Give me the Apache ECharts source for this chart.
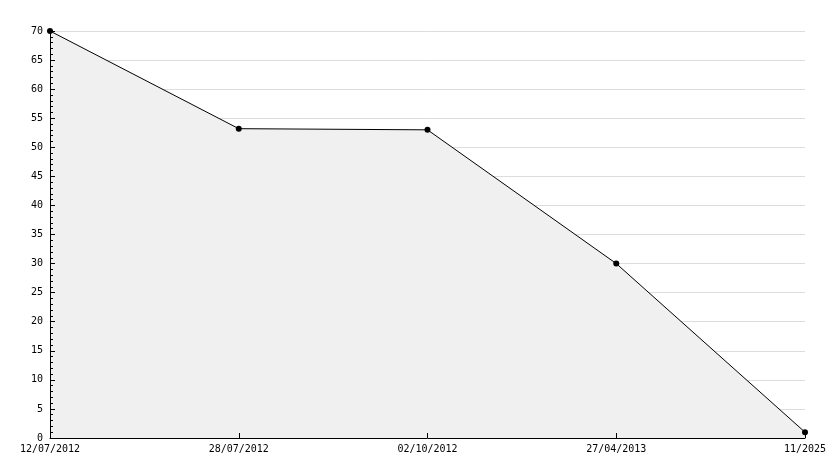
<!DOCTYPE html>
<html><head><meta charset="utf-8">
<script src="https://cdn.jsdelivr.net/npm/echarts@6/dist/echarts.min.js"></script>
<style>html,body{margin:0;padding:0;background:#fff}#c{width:834px;height:468px}</style>
</head><body><div id="c"></div>
<script>
const categories = ['12/07/2012', '28/07/2012', '02/10/2012', '27/04/2013', '11/2025'];
const values = [70, 53.2, 53, 30, 1];
const yTicks = [0, 5, 10, 15, 20, 25, 30, 35, 40, 45, 50, 55, 60, 65, 70];

const chart = echarts.init(document.getElementById('c'), null, {renderer: 'canvas'});
const font = {fontFamily: 'DejaVu Sans Mono', fontSize: 10, color: '#000'};
const yMin = yTicks[0], yMax = yTicks[yTicks.length - 1];
chart.setOption({
  animation: false,
  backgroundColor: '#fff',
  grid: {left: 50, right: 29, top: 31, bottom: 30, containLabel: false},
  xAxis: {
    type: 'category', data: categories, boundaryGap: false, z: 3,
    axisLine: {lineStyle: {color: '#000', width: 1}},
    axisTick: {show: true, inside: true, length: 5, lineStyle: {color: '#000'}},
    axisLabel: Object.assign({margin: 6, interval: 0}, font),
    splitLine: {show: false}
  },
  yAxis: [{
    type: 'value', min: yMin, max: yMax, interval: 5, z: 0,
    axisLine: {show: false}, axisTick: {show: false}, axisLabel: {show: false},
    splitLine: {show: true, lineStyle: {color: '#dddddd', width: 1}}
  }, {
    type: 'value', position: 'left', min: yMin, max: yMax, interval: 5, z: 3,
    axisLine: {show: true, lineStyle: {color: '#000', width: 1}},
    axisTick: {show: true, inside: true, length: 5, lineStyle: {color: '#000'}},
    minorTick: {show: true, splitNumber: 5, length: 3, lineStyle: {color: '#000'}},
    axisLabel: Object.assign({margin: 7}, font),
    splitLine: {show: false}
  }],
  series: [{
    type: 'line', data: values, z: 2, yAxisIndex: 0,
    lineStyle: {width: 0}, symbol: 'none',
    areaStyle: {color: '#f0f0f0', opacity: 1}
  }, {
    type: 'line', data: values, z: 4, yAxisIndex: 1,
    lineStyle: {color: '#000', width: 1},
    itemStyle: {color: '#000'},
    symbol: 'circle', symbolSize: 6
  }]
});
</script></body></html>
